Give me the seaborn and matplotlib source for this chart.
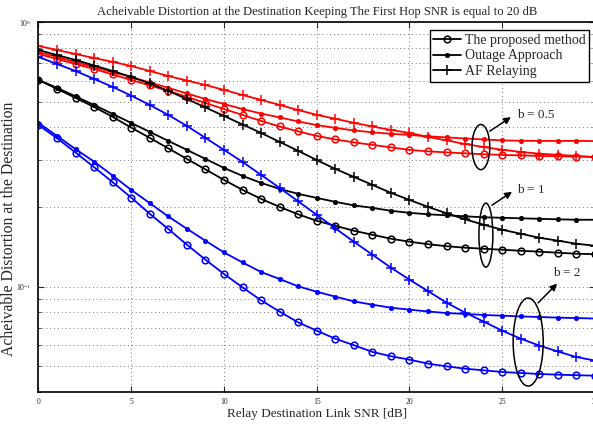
import numpy as np
import pandas as pd
import matplotlib
matplotlib.use("Agg")
import matplotlib.pyplot as plt
from matplotlib.lines import Line2D
from matplotlib.patches import Ellipse
import seaborn as sns

# relay-destination link SNR in dB
snr_db = list(range(0, 31))

# b = 0.5 (red)
proposed_b05 = [0.757, 0.725, 0.694, 0.6645, 0.6335, 0.604, 0.576, 0.549, 0.521, 0.4945,
                0.469, 0.4455, 0.423, 0.403, 0.386, 0.3713, 0.360, 0.351, 0.3434, 0.336,
                0.3288, 0.3245, 0.3217, 0.319, 0.3165, 0.3147, 0.3133, 0.312, 0.311, 0.310, 0.309]
outage_b05 = [0.770, 0.738, 0.706, 0.676, 0.647, 0.620, 0.591, 0.564, 0.537, 0.512,
              0.490, 0.469, 0.451, 0.436, 0.421, 0.408, 0.398, 0.3895, 0.383, 0.378,
              0.3745, 0.370, 0.3665, 0.363, 0.360, 0.357, 0.356, 0.3555, 0.3555, 0.3555, 0.355]
af_b05 = [0.812, 0.784, 0.757, 0.731, 0.707, 0.682, 0.653, 0.625, 0.601, 0.578,
          0.554, 0.530, 0.508, 0.486, 0.465, 0.446, 0.431, 0.416, 0.403, 0.391,
          0.381, 0.368, 0.357, 0.346, 0.337, 0.329, 0.323, 0.318, 0.315, 0.312, 0.309]

# b = 1 (black)
proposed_b1 = [0.604, 0.5588, 0.5167, 0.4776, 0.438, 0.399, 0.3649, 0.3331, 0.304, 0.2774,
               0.2532, 0.2321, 0.2147, 0.2002, 0.1877, 0.1774, 0.1699, 0.1627, 0.1571, 0.1518,
               0.1479, 0.1447, 0.1422, 0.1404, 0.1391, 0.1379, 0.1367, 0.1356, 0.1344, 0.1332, 0.1327]
outage_b1 = [0.604, 0.564, 0.5235, 0.486, 0.4494, 0.4156, 0.3844, 0.3555, 0.3288, 0.304,
             0.281, 0.2622, 0.2467, 0.2342, 0.2242, 0.2165, 0.2092, 0.2029, 0.1986, 0.1935,
             0.1902, 0.1877, 0.1861, 0.1845, 0.1829, 0.1821, 0.1813, 0.1805, 0.1797, 0.1790, 0.1790]
af_b1 = [0.784, 0.750, 0.7186, 0.685, 0.653, 0.620, 0.586, 0.549, 0.512, 0.4755,
         0.4417, 0.410, 0.381, 0.3524, 0.326, 0.301, 0.2786, 0.260, 0.2424, 0.2262,
         0.2128, 0.2002, 0.1894, 0.1797, 0.1714, 0.1641, 0.1585, 0.1531, 0.1492, 0.1453, 0.1428]

# b = 2 (blue)
proposed_b2 = [0.408, 0.3639, 0.3212, 0.2828, 0.2482, 0.2171, 0.1885, 0.1651, 0.1441, 0.1265,
               0.1117, 0.0994, 0.0888, 0.0805, 0.0733, 0.0682, 0.0636, 0.0601, 0.0567, 0.0546,
               0.0530, 0.0512, 0.0500, 0.0490, 0.0483, 0.0476, 0.0472, 0.0468, 0.0465, 0.0463, 0.0461]
outage_b2 = [0.4156, 0.3713, 0.3307, 0.2968, 0.2628, 0.2321, 0.2068, 0.1842, 0.1655, 0.1492,
             0.1347, 0.1235, 0.1136, 0.1069, 0.1003, 0.0957, 0.0917, 0.0880, 0.0855, 0.0833,
             0.0819, 0.0806, 0.0795, 0.0789, 0.0782, 0.0777, 0.0772, 0.0768, 0.0764, 0.0761, 0.0758]
af_b2 = [0.738, 0.694, 0.653, 0.6095, 0.5685, 0.527, 0.486, 0.4455, 0.405, 0.3649,
         0.3288, 0.2961, 0.2645, 0.2362, 0.2101, 0.1869, 0.1662, 0.1479, 0.1321, 0.118,
         0.1063, 0.0962, 0.0870, 0.0798, 0.0738, 0.0682, 0.0636, 0.0599, 0.0569, 0.0542, 0.0526]

method_labels = ["The proposed method", "Outage Approach", "AF Relaying"]
b_labels = ["b = 0.5", "b = 1", "b = 2"]
b_colors = ["#ff0000", "#000000", "#0000ff"]

series = {
    ("b = 0.5", "The proposed method"): proposed_b05,
    ("b = 0.5", "Outage Approach"): outage_b05,
    ("b = 0.5", "AF Relaying"): af_b05,
    ("b = 1", "The proposed method"): proposed_b1,
    ("b = 1", "Outage Approach"): outage_b1,
    ("b = 1", "AF Relaying"): af_b1,
    ("b = 2", "The proposed method"): proposed_b2,
    ("b = 2", "Outage Approach"): outage_b2,
    ("b = 2", "AF Relaying"): af_b2,
}

rows = []
for (b, method), vals in series.items():
    for x, v in zip(snr_db, vals):
        rows.append({"snr": x, "dist": v, "b": b, "method": method})
df = pd.DataFrame(rows)

# marker style for each method
marker_kw = {
    "The proposed method": dict(marker="o", markersize=4.8, markerfacecolor="none", markeredgewidth=1.1),
    "Outage Approach": dict(marker="o", markersize=3.2, markeredgewidth=0.5),
    "AF Relaying": dict(marker="+", markersize=6.5, markeredgewidth=1.1),
}

sns.set_style("ticks")
plt.rcParams["font.family"] = ["Liberation Serif", "DejaVu Serif"]
plt.rcParams["mathtext.fontset"] = "custom"
plt.rcParams["mathtext.rm"] = "Liberation Serif"
plt.rcParams["mathtext.it"] = "Liberation Serif:italic"

fig = plt.figure(figsize=(5.93, 4.26), dpi=100)
ax = fig.add_axes([0.0649, 0.0798, 0.9384, 0.8685])

for b, color in zip(b_labels, b_colors):
    for method in method_labels:
        sub = df[(df["b"] == b) & (df["method"] == method)]
        kw = dict(marker_kw[method])
        kw["markeredgecolor"] = color
        if method != "The proposed method":
            kw["markerfacecolor"] = color
        sns.lineplot(data=sub, x="snr", y="dist", ax=ax, color=color,
                     linewidth=1.3, legend=False, **kw)

ax.set_yscale("log")
ax.set_xlim(0, 30)
ax.set_ylim(0.04, 1.0)
ax.set_xticks([0, 5, 10, 15, 20, 25, 30])
ax.set_yticks([0.1, 1.0])
ax.set_yticklabels([r"$10^{-1}$", r"$10^{0}$"])
ax.tick_params(axis="both", which="major", direction="in", labelsize=5.5,
               length=4, width=0.8, top=True, right=True)
ax.tick_params(axis="x", which="major", pad=4)
ax.tick_params(axis="y", which="major", pad=5)
ax.tick_params(axis="y", which="minor", direction="in", length=2.5, width=0.6, right=True)
ax.yaxis.set_minor_formatter(matplotlib.ticker.NullFormatter())
ax.grid(True, which="major", axis="x", linestyle=(0, (1, 3)), color="#777777", linewidth=0.7)
ax.grid(True, which="both", axis="y", linestyle=(0, (1, 3)), color="#777777", linewidth=0.7)
for side in ["left", "bottom", "top", "right"]:
    ax.spines[side].set_linewidth(1.2)
    ax.spines[side].set_color("black")

ax.set_title("Acheivable Distortion at the Destination Keeping The First Hop SNR is equal to 20 dB",
             fontsize=9.1, pad=5)
ax.set_xlabel("Relay Destination Link SNR [dB]", fontsize=9.5, labelpad=2)
ax.set_ylabel("Acheivable Distortion at the Destination", fontsize=11.3)
ax.yaxis.set_label_coords(-0.039, 0.44)

# legend in black, as in the original figure
handles = [Line2D([0], [0], color="black", linewidth=1.3, **marker_kw[m],
                  markeredgecolor="black") for m in method_labels]
handles[1].set_markerfacecolor("black")
leg = ax.legend(handles, method_labels, loc="upper right", bbox_to_anchor=(0.99, 0.978),
                fontsize=10, frameon=True, fancybox=False, handlelength=2.0,
                handletextpad=0.3, borderpad=0.25, labelspacing=0.2, borderaxespad=0)
leg.get_frame().set_edgecolor("black")
leg.get_frame().set_linewidth(1.0)
leg.get_frame().set_alpha(1)

# ellipses grouping curves with the same b, plus arrow and label
groups = [
    # label, ellipse centre, width, height, arrow start, arrow end, text pos
    ("b = 0.5", (0.795, 0.662), 0.032, 0.122, (0.811, 0.705), (0.849, 0.743), (0.860, 0.748)),
    ("b = 1", (0.804, 0.424), 0.025, 0.173, (0.815, 0.505), (0.851, 0.541), (0.860, 0.546)),
    ("b = 2", (0.880, 0.135), 0.054, 0.238, (0.898, 0.241), (0.932, 0.293), (0.925, 0.322)),
]
for text, centre, w, h, start, end, tpos in groups:
    ax.add_patch(Ellipse(centre, w, h, transform=ax.transAxes, fill=False,
                         edgecolor="black", linewidth=1.1, zorder=5))
    ax.annotate("", xy=end, xytext=start, xycoords="axes fraction",
                arrowprops=dict(arrowstyle="-|>", color="black", lw=1.1,
                                mutation_scale=10, shrinkA=0, shrinkB=0))
    ax.text(tpos[0], tpos[1], text, transform=ax.transAxes, fontsize=9.5,
            ha="left", va="center")

fig.savefig("out.png", dpi=100)
